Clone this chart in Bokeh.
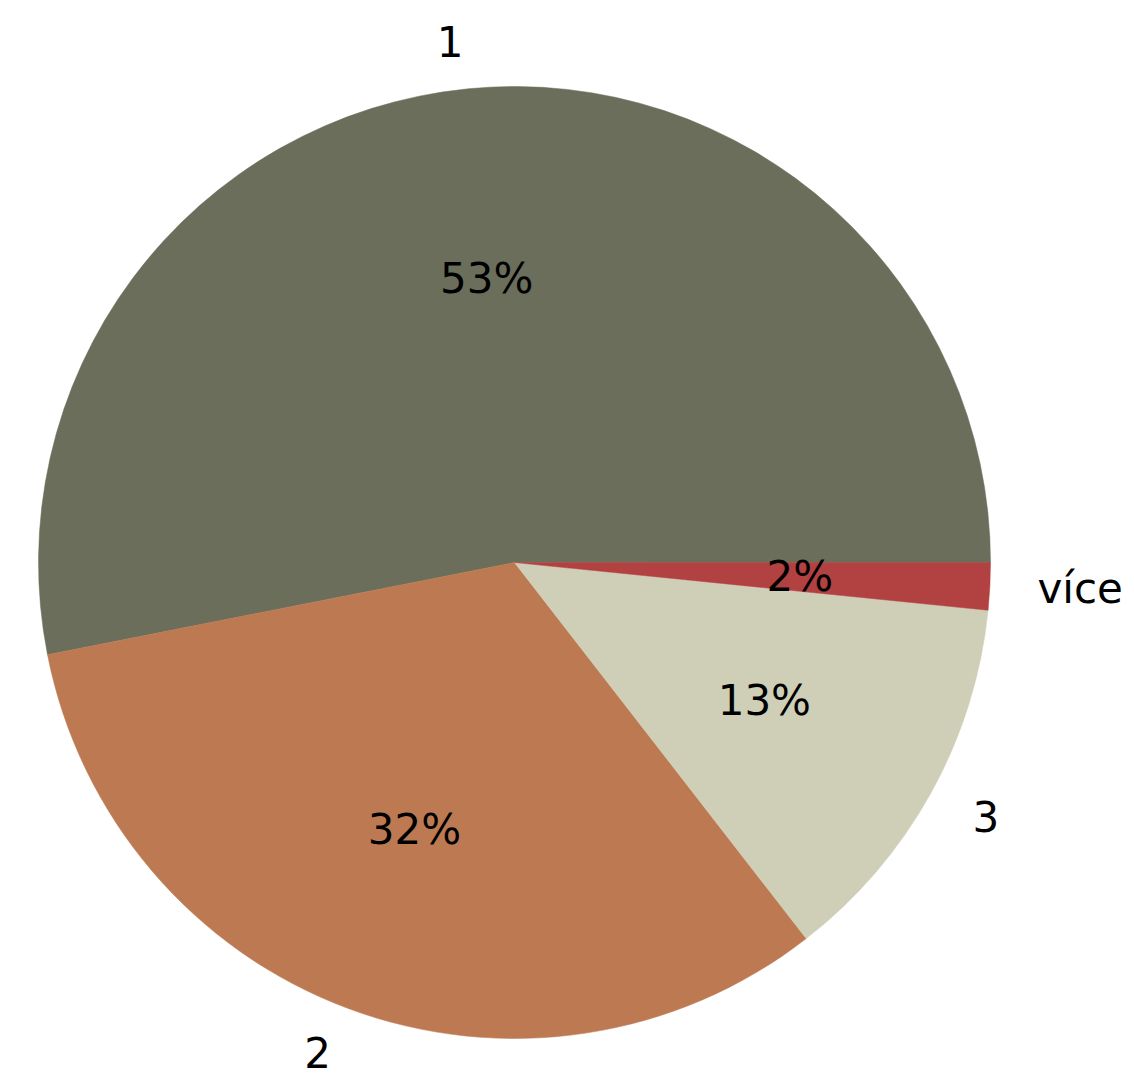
import math
from bokeh.plotting import figure
from bokeh.models import Range1d, ColumnDataSource
from bokeh.core.properties import value
from bokeh.embed import file_html
from bokeh.resources import INLINE

# Data
categories = ["1", "2", "3", "více"]
shares = [53.1, 32.4, 12.9, 1.6]
colors = ["#6b6e5b", "#bd7a52", "#cfcfb8", "#b24141"]

R = 1.0
scale = 476.0  # pixels per unit radius
W, H = 1134, 1073
cx_px, cy_px = 514, 562  # pie center within canvas (pixels)

p = figure(width=W, height=H, output_backend="svg", toolbar_location=None,
           x_range=Range1d(-cx_px / scale, (W - cx_px) / scale),
           y_range=Range1d(-(H - cy_px) / scale, cy_px / scale),
           x_axis_type=None, y_axis_type=None, min_border=0,
           background_fill_color="white", border_fill_color="white")
p.outline_line_color = None
p.grid.visible = False

total = sum(shares)
starts, ends, mids = [], [], []
acc = 0.0
for v in shares:
    a0 = 2 * math.pi * acc / total
    acc += v
    a1 = 2 * math.pi * acc / total
    starts.append(a0)
    ends.append(a1)
    mids.append((a0 + a1) / 2)

src = ColumnDataSource(dict(start=starts, end=ends, color=colors,
                            x=[0] * len(shares), y=[0] * len(shares)))
p.wedge(x="x", y="y", radius=R, start_angle="start", end_angle="end",
        fill_color="color", line_color="color", line_width=0.5, source=src)

font = value("DejaVu Sans")
# percentage labels
pct_x = [0.6 * R * math.cos(m) for m in mids]
pct_y = [0.6 * R * math.sin(m) for m in mids]
pct_t = [f"{v / total * 100:.0f}%" for v in shares]
p.text(x=pct_x, y=pct_y, text=pct_t, text_font=font, text_font_size="42px",
       text_align="center", text_baseline="middle", text_color="black")

# outer category labels
lab_x = [1.1 * R * math.cos(m) for m in mids]
lab_y = [1.1 * R * math.sin(m) for m in mids]
lab_align = ["left" if x > 0 else "right" for x in lab_x]
p.text(x=lab_x, y=lab_y, text=categories, text_font=font, text_font_size="42px",
       text_align=lab_align, text_baseline="middle", text_color="black")

open("out.html", "w").write(file_html(p, INLINE))
